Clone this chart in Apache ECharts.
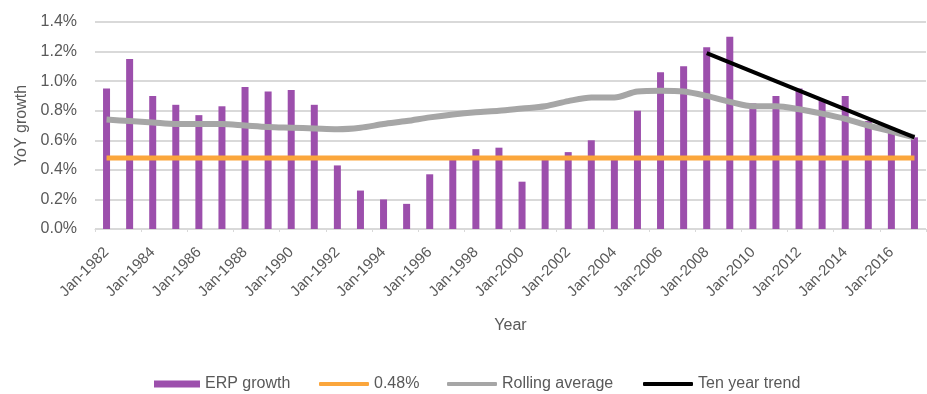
<!DOCTYPE html>
<html>
<head>
<meta charset="utf-8">
<script src="https://cdn.jsdelivr.net/npm/echarts@6/dist/echarts.min.js"></script>
<style>
  html, body { margin: 0; padding: 0; background: #fff; }
  #chart { width: 927px; height: 394px; }
</style>
</head>
<body>
<div id="chart"></div>
<script>
// Years shown on the category axis (Jan of each year, 1982-2017)
const years = [];
for (let y = 1982; y <= 2017; y++) years.push('Jan-' + y);

// Year-on-year ERP growth (%)
const erpGrowth = [0.95, 1.15, 0.90, 0.84, 0.77, 0.83, 0.96, 0.93, 0.94, 0.84,
                   0.43, 0.26, 0.20, 0.17, 0.37, 0.47, 0.54, 0.55, 0.32, 0.47,
                   0.52, 0.60, 0.47, 0.80, 1.06, 1.10, 1.23, 1.30, 0.85, 0.90,
                   0.95, 0.87, 0.90, 0.73, 0.65, 0.62];

// Long-run reference level (%)
const baseline = 0.48;

// Rolling average of ERP growth (%)
const rollingAvg = [0.74, 0.73, 0.72, 0.71, 0.71, 0.71, 0.70, 0.69, 0.685, 0.68,
                    0.675, 0.685, 0.71, 0.73, 0.755, 0.775, 0.79, 0.80, 0.815, 0.83,
                    0.865, 0.89, 0.89, 0.93, 0.935, 0.93, 0.90, 0.86, 0.83, 0.83,
                    0.81, 0.78, 0.745, 0.70, 0.66, 0.62];

// Ten year trend: straight line between its two end points (2008 and 2017)
const trendStart = { year: 'Jan-2008', value: 1.19 };
const trendEnd = { year: 'Jan-2017', value: 0.62 };

const trendData = years.map(y =>
  y === trendStart.year ? trendStart.value : (y === trendEnd.year ? trendEnd.value : null));
const baselineData = years.map(() => baseline);

const textColor = '#595959';
const font = 'Liberation Sans, Arial, sans-serif';

const colors = {
  bar: '#9c4fac',
  baseline: '#fba63c',
  rolling: '#a6a6a6',
  trend: '#000000'
};

// One legend block per entry so each swatch keeps its own shape and size
function legendItem(name, left, icon, w, h) {
  return {
    left: left,
    top: 371,
    itemWidth: w,
    itemHeight: h,
    icon: icon,
    data: [name],
    selectedMode: false,
    textStyle: { color: textColor, fontSize: 16, fontFamily: font }
  };
}

const chart = echarts.init(document.getElementById('chart'), null, { renderer: 'canvas' });
chart.setOption({
  animation: false,
  textStyle: { fontFamily: font },
  grid: { left: 95, right: 1, top: 22, bottom: 165, containLabel: false },
  legend: [
    legendItem('ERP growth', 149, 'rect', 46, 7),
    legendItem('0.48%', 314, 'roundRect', 50, 4),
    legendItem('Rolling average', 442, 'roundRect', 50, 4),
    legendItem('Ten year trend', 638, 'roundRect', 50, 4)
  ],
  xAxis: {
    type: 'category',
    data: years,
    boundaryGap: true,
    name: 'Year',
    nameLocation: 'middle',
    nameGap: 89,
    nameTextStyle: { color: textColor, fontSize: 16, fontFamily: font },
    axisLine: { lineStyle: { color: '#d9d9d9', width: 1 } },
    axisTick: { show: true, interval: 1, length: 3, lineStyle: { color: '#d9d9d9' } },
    axisLabel: {
      interval: 1,
      rotate: 45,
      color: textColor,
      fontSize: 15,
      fontFamily: font,
      margin: 21
    }
  },
  yAxis: {
    type: 'value',
    min: 0,
    max: 1.4,
    interval: 0.2,
    name: 'YoY growth',
    nameLocation: 'middle',
    nameGap: 58,
    nameRotate: 90,
    nameTextStyle: { color: textColor, fontSize: 16, fontFamily: font },
    axisLine: { show: false },
    axisTick: { show: false },
    axisLabel: {
      color: textColor,
      fontSize: 16,
      fontFamily: font,
      margin: 18,
      formatter: v => v.toFixed(1) + '%'
    },
    splitLine: { lineStyle: { color: '#d9d9d9', width: 2 } }
  },
  series: [
    {
      name: 'ERP growth',
      type: 'bar',
      data: erpGrowth,
      barWidth: 7,
      itemStyle: { color: colors.bar },
      z: 1
    },
    {
      name: '0.48%',
      type: 'line',
      data: baselineData,
      symbol: 'none',
      lineStyle: { color: colors.baseline, width: 5 },
      itemStyle: { color: colors.baseline },
      z: 3
    },
    {
      name: 'Rolling average',
      type: 'line',
      data: rollingAvg,
      smooth: 0.3,
      symbol: 'none',
      lineStyle: { color: colors.rolling, width: 6 },
      itemStyle: { color: colors.rolling },
      z: 4
    },
    {
      name: 'Ten year trend',
      type: 'line',
      data: trendData,
      connectNulls: true,
      symbol: 'none',
      lineStyle: { color: colors.trend, width: 4 },
      itemStyle: { color: colors.trend },
      z: 5
    }
  ]
});
</script>
</body>
</html>
